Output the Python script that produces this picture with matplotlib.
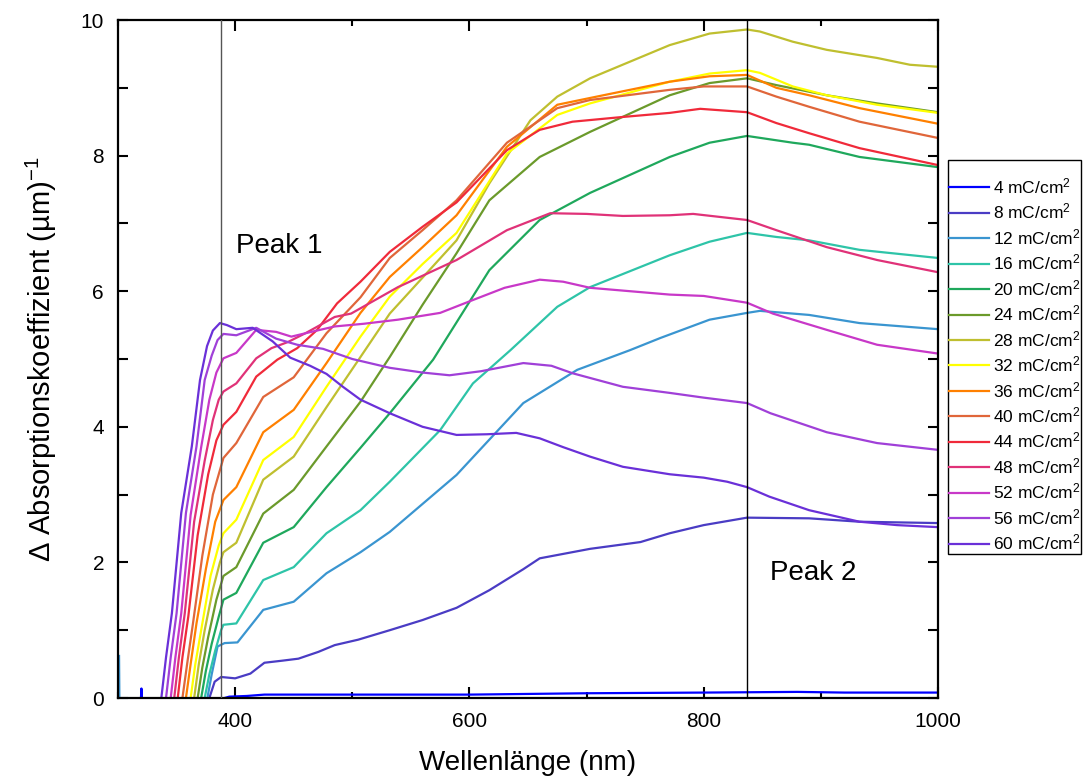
import matplotlib
matplotlib.use('Agg')
import matplotlib.pyplot as plt
from matplotlib.ticker import MultipleLocator

plt.rcParams['font.family'] = ['Liberation Sans', 'DejaVu Sans']
plt.rcParams['mathtext.fontset'] = 'custom'
plt.rcParams['mathtext.rm'] = 'Liberation Sans'
plt.rcParams['mathtext.it'] = 'Liberation Sans:italic'

# --- data (wavelength in nm, delta absorption in 1/um) ---
labels = ['4 mC/cm$^2$', '8 mC/cm$^2$', '12 mC/cm$^2$', '16 mC/cm$^2$', '20 mC/cm$^2$',
          '24 mC/cm$^2$', '28 mC/cm$^2$', '32 mC/cm$^2$', '36 mC/cm$^2$', '40 mC/cm$^2$',
          '44 mC/cm$^2$', '48 mC/cm$^2$', '52 mC/cm$^2$', '56 mC/cm$^2$', '60 mC/cm$^2$']
colors = ['#0000ff', '#4a3cc4', '#3a95d0', '#2ec4a8', '#1fa85c',
          '#6b9a2b', '#bfbf2f', '#ffff00', '#ff8000', '#e0663a',
          '#f02a3a', '#e03278', '#c838c8', '#a040d8', '#6a30d8']

wl_04 = [318, 319.5, 320, 320.5, 322, 385, 395, 410, 425, 460, 500, 600, 700, 800, 880, 920, 1000]
ab_04 = [-0.03, -0.03, 0.14, -0.03, -0.03, -0.03, 0.02, 0.03, 0.05, 0.05, 0.05, 0.05, 0.07, 0.08, 0.09, 0.08, 0.08]

wl_08 = [378, 382.5, 388, 400, 413, 425, 440, 454, 471, 485, 505, 532, 560, 589, 617, 646, 660,
         703, 746, 771, 800, 837, 890, 933, 1000]
ab_08 = [0, 0.24, 0.31, 0.29, 0.36, 0.52, 0.55, 0.58, 0.68, 0.78, 0.86, 1.00, 1.15, 1.33, 1.59, 1.90, 2.06,
         2.20, 2.30, 2.43, 2.55, 2.66, 2.65, 2.60, 2.58]

wl_12 = [300.9, 301.2, 376, 380, 385, 391, 402, 424, 450, 478, 507, 532, 589, 646, 692, 737, 763,
         805, 837, 848, 890, 933, 1000]
ab_12 = [0.62, -0.03, -0.03, 0.35, 0.76, 0.81, 0.82, 1.30, 1.42, 1.84, 2.15, 2.45, 3.29, 4.35, 4.84, 5.13, 5.31,
         5.58, 5.68, 5.71, 5.65, 5.53, 5.44]

wl_16 = [374, 378, 383, 388, 390, 401, 424, 450, 478, 507, 532, 575, 603, 635, 675, 703, 771,
         805, 837, 862, 890, 933, 1000]
ab_16 = [0, 0.35, 0.70, 1.00, 1.08, 1.10, 1.74, 1.93, 2.43, 2.77, 3.19, 3.95, 4.64, 5.13, 5.77, 6.06, 6.53,
         6.73, 6.86, 6.80, 6.75, 6.61, 6.49]

wl_20 = [371, 375, 380, 386, 390, 401, 424, 450, 478, 507, 532, 569, 617, 660, 703, 771,
         805, 837, 876, 890, 933, 1000]
ab_20 = [0, 0.40, 0.80, 1.20, 1.45, 1.55, 2.29, 2.52, 3.11, 3.69, 4.20, 4.99, 6.31, 7.05, 7.45, 7.98,
         8.19, 8.29, 8.19, 8.16, 7.98, 7.83]

wl_24 = [368, 372, 377, 384, 390, 401, 424, 450, 478, 507, 532, 560, 589, 617, 660, 703, 771,
         805, 837, 862, 905, 948, 1000]
ab_24 = [0, 0.45, 0.90, 1.45, 1.80, 1.93, 2.72, 3.07, 3.71, 4.37, 5.03, 5.80, 6.56, 7.34, 7.98, 8.35, 8.89,
         9.07, 9.14, 9.04, 8.89, 8.77, 8.64]

wl_28 = [365, 369, 374, 381, 387, 390, 401, 424, 450, 478, 507, 532, 560, 589, 617, 652, 675, 703,
         771, 805, 837, 848, 876, 905, 948, 976, 1000]
ab_28 = [0, 0.50, 1.00, 1.60, 2.00, 2.15, 2.29, 3.22, 3.56, 4.29, 5.03, 5.67, 6.20, 6.75, 7.59, 8.52, 8.87, 9.14,
         9.63, 9.80, 9.86, 9.83, 9.68, 9.56, 9.44, 9.34, 9.31]

wl_32 = [362, 366, 371, 379, 386, 390, 401, 424, 450, 478, 507, 532, 560, 589, 632, 675, 703,
         771, 805, 837, 848, 876, 905, 948, 1000]
ab_32 = [0, 0.50, 1.00, 1.80, 2.25, 2.43, 2.63, 3.51, 3.85, 4.59, 5.33, 5.92, 6.40, 6.86, 8.03, 8.60, 8.77,
         9.09, 9.21, 9.26, 9.22, 9.02, 8.89, 8.75, 8.63]

wl_36 = [358, 362, 367, 375, 383, 390, 401, 424, 450, 478, 507, 532, 560, 589, 632, 675, 703,
         771, 805, 837, 862, 890, 933, 1000]
ab_36 = [0, 0.50, 1.10, 1.90, 2.60, 2.92, 3.11, 3.92, 4.25, 4.94, 5.68, 6.21, 6.65, 7.12, 8.13, 8.75, 8.85,
         9.09, 9.17, 9.19, 9.00, 8.89, 8.70, 8.47]

wl_40 = [355, 359, 364, 372, 381, 390, 401, 424, 450, 478, 507, 532, 560, 589, 632, 675, 703,
         771, 800, 837, 862, 890, 933, 1000]
ab_40 = [0, 0.50, 1.10, 2.10, 3.00, 3.54, 3.76, 4.44, 4.73, 5.38, 5.91, 6.49, 6.90, 7.34, 8.19, 8.70, 8.82,
         8.97, 9.02, 9.02, 8.87, 8.72, 8.50, 8.26]

wl_44 = [351, 355, 360, 368, 377, 384, 390, 401, 418, 436, 453, 470, 487, 507, 532, 560, 589, 632,
         660, 688, 731, 771, 797, 837, 862, 890, 933, 1000]
ab_44 = [0, 0.60, 1.20, 2.40, 3.30, 3.80, 4.03, 4.22, 4.74, 4.99, 5.16, 5.43, 5.82, 6.14, 6.58, 6.95, 7.31, 8.08,
         8.38, 8.50, 8.57, 8.63, 8.69, 8.64, 8.48, 8.33, 8.11, 7.86]

wl_48 = [348, 352, 357, 365, 374, 381, 386, 390, 401, 418, 431, 445, 460, 485, 499, 539, 589, 632,
         669, 700, 731, 771, 791, 837, 862, 905, 948, 1000]
ab_48 = [0, 0.60, 1.25, 2.60, 3.50, 4.10, 4.40, 4.52, 4.64, 5.01, 5.16, 5.25, 5.38, 5.62, 5.67, 6.06, 6.46, 6.90,
         7.15, 7.14, 7.11, 7.12, 7.14, 7.05, 6.90, 6.65, 6.46, 6.28]

wl_52 = [345, 349, 354, 362, 371, 378, 384, 390, 401, 418, 435, 448, 465, 485, 510, 539, 575, 603,
         630, 660, 680, 703, 737, 771, 800, 837, 859, 905, 948, 1000]
ab_52 = [0, 0.60, 1.25, 2.70, 3.70, 4.40, 4.80, 5.01, 5.09, 5.43, 5.40, 5.33, 5.40, 5.48, 5.52, 5.58, 5.68, 5.87,
         6.05, 6.17, 6.14, 6.05, 6.00, 5.95, 5.93, 5.83, 5.67, 5.43, 5.21, 5.08]

wl_56 = [341, 345, 350, 358, 367, 374, 380, 385, 390, 401, 418, 435, 453, 475, 500, 532, 560, 583,
         610, 646, 670, 688, 731, 771, 800, 837, 857, 905, 948, 1000]
ab_56 = [0, 0.60, 1.25, 2.73, 3.71, 4.69, 5.05, 5.28, 5.37, 5.35, 5.46, 5.30, 5.21, 5.15, 5.00, 4.87, 4.80, 4.76,
         4.82, 4.94, 4.90, 4.79, 4.59, 4.50, 4.43, 4.35, 4.20, 3.92, 3.76, 3.66]

wl_60 = [337, 341, 346, 354, 363, 370, 376, 381, 387, 393, 401, 415, 432, 447, 464, 478, 492, 507,
         532, 560, 589, 615, 640, 660, 680, 703, 731, 771, 800, 820, 837, 856, 890, 933, 965, 1000]
ab_60 = [0, 0.60, 1.25, 2.73, 3.71, 4.69, 5.19, 5.42, 5.53, 5.50, 5.44, 5.46, 5.26, 5.02, 4.90, 4.78, 4.59, 4.40,
         4.20, 4.00, 3.88, 3.89, 3.91, 3.83, 3.70, 3.56, 3.41, 3.30, 3.25, 3.19, 3.11, 2.97, 2.77, 2.60, 2.55, 2.52]

wavelengths = [wl_04, wl_08, wl_12, wl_16, wl_20, wl_24, wl_28, wl_32,
               wl_36, wl_40, wl_44, wl_48, wl_52, wl_56, wl_60]
absorption = [ab_04, ab_08, ab_12, ab_16, ab_20, ab_24, ab_28, ab_32,
              ab_36, ab_40, ab_44, ab_48, ab_52, ab_56, ab_60]

peak_lines = [388, 837]
peak_colors = ['#555555', 'black']

# ---------------------------------------------------------------------------------
fig = plt.figure(figsize=(10.86, 7.78), dpi=100)
ax = fig.add_axes([118/1086, 80/778, 820/1086, 678/778])

for wl, ab, c, lbl in zip(wavelengths, absorption, colors, labels):
    ax.plot(wl, ab, color=c, lw=1.6, label=lbl)

for x, c in zip(peak_lines, peak_colors):
    ax.axvline(x, color=c, lw=1.0, zorder=3)

ax.text(401, 6.67, 'Peak 1', fontsize=20, va='center', ha='left')
ax.text(857, 1.84, 'Peak 2', fontsize=20, va='center', ha='left')

ax.set_xlim(300, 1000)
ax.set_ylim(0, 10)
ax.xaxis.set_major_locator(MultipleLocator(200))
ax.xaxis.set_minor_locator(MultipleLocator(100))
ax.yaxis.set_major_locator(MultipleLocator(2))
ax.yaxis.set_minor_locator(MultipleLocator(1))
ax.tick_params(which='both', direction='in', top=True, right=True, width=1.5,
               labelsize=15, pad=10)
ax.tick_params(axis='x', which='major', length=8)
ax.tick_params(axis='x', which='minor', length=4.5)
ax.tick_params(axis='y', which='both', length=7)
for sp in ax.spines.values():
    sp.set_linewidth(1.6)

ax.set_xlabel('Wellenlänge (nm)', fontsize=20, labelpad=14)
ax.set_ylabel('Δ Absorptionskoeffizient (µm)$^{-1}$', fontsize=21, labelpad=16)

leg = ax.legend(loc='upper left', bbox_to_anchor=(948/1086, 1 - 160/778),
                bbox_transform=fig.transFigure, fontsize=12.5, frameon=True,
                fancybox=False, edgecolor='black', framealpha=1,
                handlelength=2.3, handletextpad=0.25, labelspacing=0.32,
                borderpad=0.05, borderaxespad=0, title=' ', title_fontsize=7)
leg.get_frame().set_linewidth(1.0)

fig.savefig('out.png', dpi=100)
